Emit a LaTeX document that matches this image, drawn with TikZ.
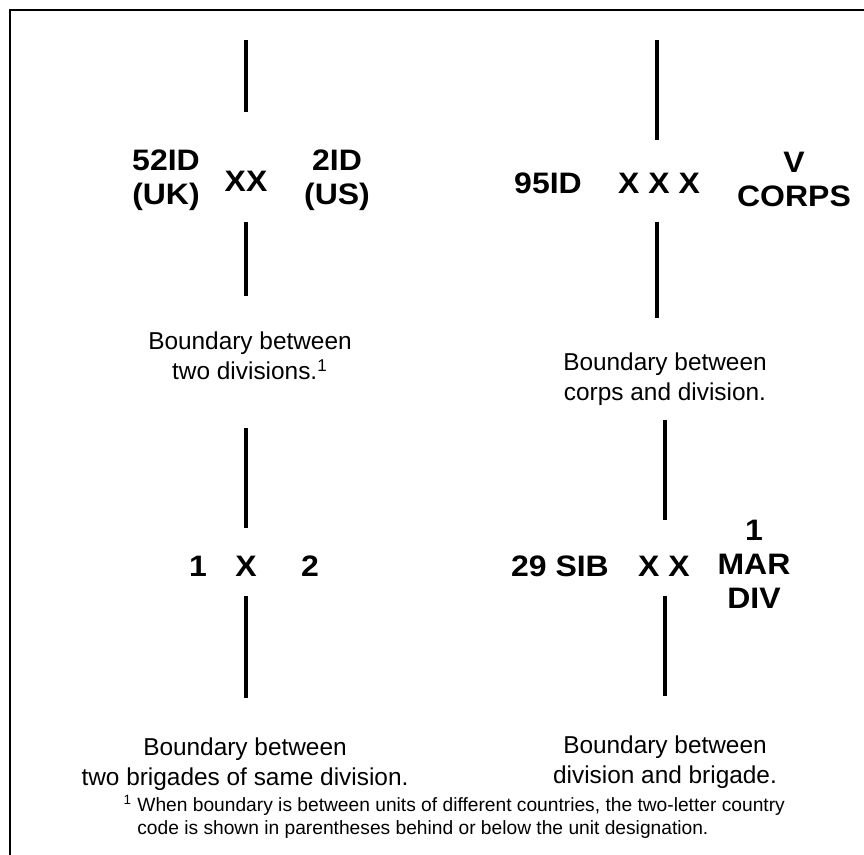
\documentclass[tikz,border=0pt]{standalone}
\usepackage{fontspec}
\setmainfont{Liberation Sans}
\newfontfamily\unitfont{Liberation Sans Bold}[FakeStretch=1.08]
\usetikzlibrary{positioning}

\tikzset{
  bline/.style={line width=2pt},
  unit/.style={font=\unitfont\fontsize{14.8}{17}\selectfont,align=center,inner sep=0pt},
  note/.style={font=\fontsize{12.2}{15}\selectfont,align=center,inner sep=0pt},
  fnote/.style={font=\fontsize{9.6}{11.5}\selectfont,align=left,inner sep=0pt,anchor=west},
}

\begin{document}
\begin{tikzpicture}[x=0.5pt,y=-0.5pt]
\useasboundingbox (0,0) rectangle (864,855);
\draw[line width=1pt] (10,10) rectangle (890,890);

% two divisions
\node[unit] (divxx) at (246,181) {XX};
\node[unit] (uk) at (166,180) {52ID\\(UK)};
\node[unit] (us) at (337,180) {2ID\\(US)};
\coordinate (divtop) at (246,40);
\coordinate (divbot) at (246,296);
\draw[bline] (divtop) -- (divxx.north |- 0,112);
\draw[bline] (divxx.south |- 0,222) -- (divbot);
\node[note] (divnote) at (250,356) {Boundary between\\two divisions.\textsuperscript{1}};

% corps and division
\node[unit] (corpsxx) at (659,183) {X X X};
\node[unit] (id95) at (548,183) {95ID};
\node[unit] (corps) at (794,179) {V\\CORPS};
\coordinate (corpstop) at (657,40);
\coordinate (corpsbot) at (657,318);
\draw[bline] (corpstop) -- (corpstop |- 0,140);
\draw[bline] (corpstop |- 0,222) -- (corpsbot);
\node[note] (corpsnote) at (665,379) {Boundary between\\corps and division.};

% two brigades
\node[unit] (brx) at (246,566) {X};
\node[unit] (br1) at (198,566) {1};
\node[unit] (br2) at (310,566) {2};
\coordinate (brtop) at (246,428);
\coordinate (brbot) at (246,698);
\draw[bline] (brtop) -- (brtop |- 0,528);
\draw[bline] (brtop |- 0,596) -- (brbot);
\node[note] (brnote) at (245,764) {Boundary between\\two brigades of same division.};

% division and brigade
\node[unit] (dbxx) at (664,566) {X X};
\node[unit] (sib) at (560,566) {29 SIB};
\node[unit] (mar) at (754,564) {1\\MAR\\DIV};
\coordinate (dbtop) at (665,420);
\coordinate (dbbot) at (665,696);
\draw[bline] (dbtop) -- (dbtop |- 0,520);
\draw[bline] (dbtop |- 0,596) -- (dbbot);
\node[note] (dbnote) at (665,762) {Boundary between\\division and brigade.};

% footnote
\node[fnote] (fn) at (137,817) {\llap{\textsuperscript{1} }When boundary is between units of different countries, the two-letter country\\code is shown in parentheses behind or below the unit designation.};
\end{tikzpicture}
\end{document}
